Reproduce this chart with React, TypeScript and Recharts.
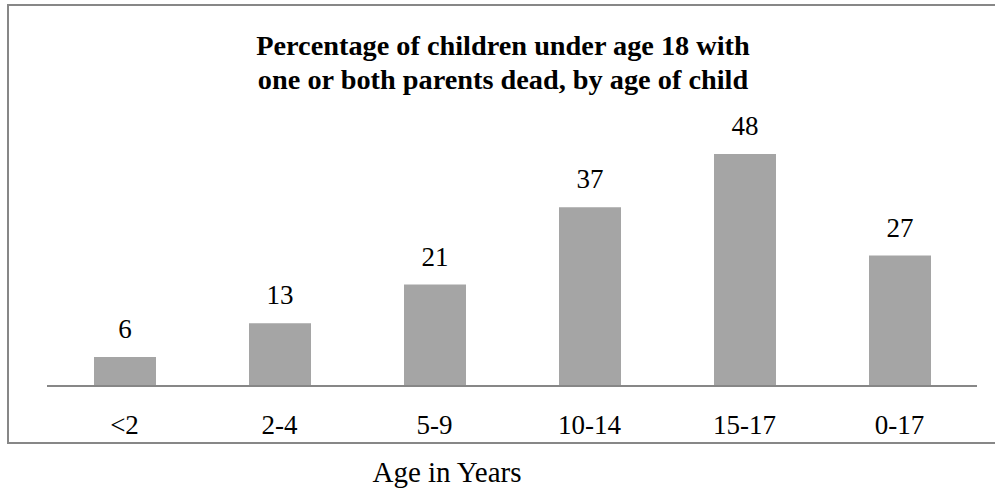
import { BarChart, Bar, XAxis, YAxis, LabelList } from "recharts";

// Age groups and share of children with one or both parents dead (%)
const ageGroups = ["<2", "2-4", "5-9", "10-14", "15-17", "0-17"];
const percentages = [6, 13, 21, 37, 48, 27];

const titleLines = [
  "Percentage of children under age 18 with",
  "one or both parents dead, by age of child",
];
const axisTitle = "Age in Years";

const data = ageGroups.map((age, i) => ({ age, value: percentages[i] }));

const FONT = "'Liberation Serif', 'Times New Roman', serif";
const BAR_COLOR = "#a5a5a5";
const AXIS_COLOR = "#878787";

const App = () => {
  return (
    <div
      style={{
        position: "absolute",
        left: 0,
        top: 0,
        width: 995,
        height: 489,
        background: "#fff",
        overflow: "hidden",
      }}
    >
      {/* Frame around the chart area */}
      <div
        style={{
          position: "absolute",
          left: 7,
          top: 4,
          width: 1000,
          height: 436,
          border: `2px solid ${AXIS_COLOR}`,
        }}
      />

      <BarChart
        width={995}
        height={489}
        data={data}
        margin={{ top: 96, right: 18, left: 47, bottom: 73 }}
        style={{ position: "absolute", left: 0, top: 0 }}
      >
        <text
          x={503}
          y={55}
          textAnchor="middle"
          fontFamily={FONT}
          fontSize={28.3}
          fontWeight="bold"
          fill="#000"
        >
          {titleLines[0]}
        </text>
        <text
          x={503}
          y={89}
          textAnchor="middle"
          fontFamily={FONT}
          fontSize={28.3}
          fontWeight="bold"
          fill="#000"
        >
          {titleLines[1]}
        </text>

        <YAxis hide domain={[0, 60]} />
        <XAxis
          dataKey="age"
          axisLine={{ stroke: AXIS_COLOR, strokeWidth: 2 }}
          tickLine={false}
          tickMargin={23}
          tick={{ fill: "#000", fontSize: 27, fontFamily: FONT }}
          interval={0}
        />

        <Bar dataKey="value" fill={BAR_COLOR} barSize={62} isAnimationActive={false}>
          <LabelList
            dataKey="value"
            position="top"
            offset={19}
            fill="#000"
            fontSize={27}
            fontFamily={FONT}
          />
        </Bar>

        <text
          x={447}
          y={482}
          textAnchor="middle"
          fontFamily={FONT}
          fontSize={29}
          fill="#000"
        >
          {axisTitle}
        </text>
      </BarChart>
    </div>
  );
};

export default App;
